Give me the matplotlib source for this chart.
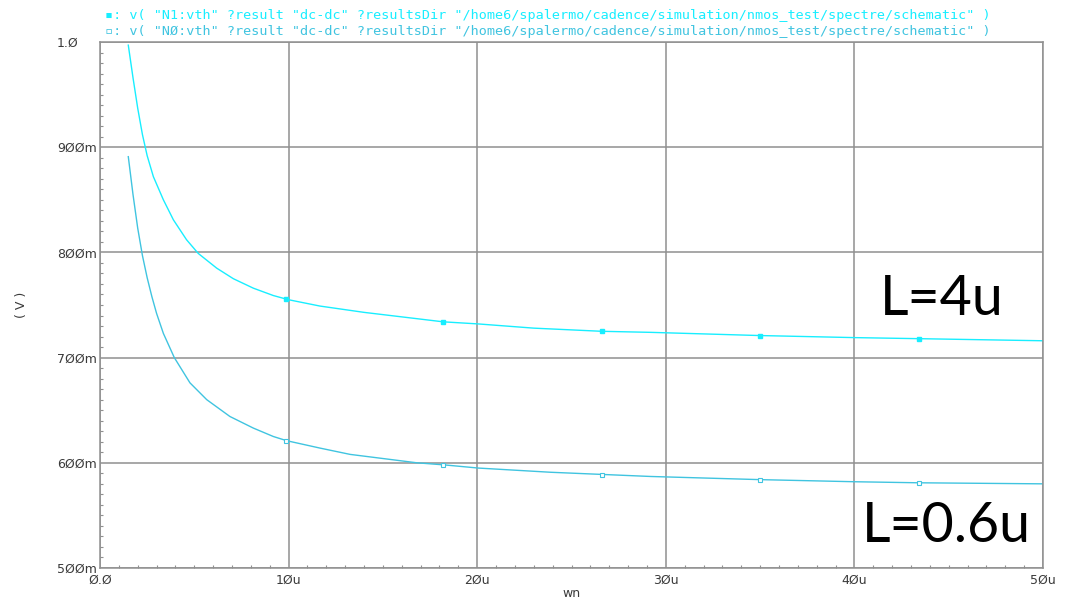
import matplotlib
matplotlib.use('Agg')
import matplotlib.pyplot as plt
from matplotlib.ticker import MultipleLocator

# wn in um, vth in V
wn_n1 = [1.5, 1.75, 2.0, 2.25, 2.5, 2.83, 3.36, 3.89, 4.59, 5.21, 6.19, 7.07, 8.13,
         9.19, 10.0, 11.66, 14.0, 18.2, 20.06, 23.0, 26.6, 29.2, 34.9, 40.0, 43.4, 50.0]
vth_n1 = [0.997, 0.966, 0.937, 0.912, 0.892, 0.872, 0.850, 0.831, 0.812, 0.799, 0.785, 0.775, 0.766,
          0.759, 0.755, 0.749, 0.743, 0.734, 0.732, 0.728, 0.725, 0.724, 0.721, 0.719, 0.718, 0.716]

wn_n0 = [1.5, 1.75, 2.0, 2.25, 2.5, 2.75, 3.0, 3.36, 3.94, 4.77, 5.66, 6.89, 8.13,
         9.19, 9.9, 11.66, 13.26, 16.8, 18.26, 20.06, 23.9, 29.2, 35.0, 40.0, 43.4, 50.0]
vth_n0 = [0.891, 0.855, 0.823, 0.797, 0.776, 0.758, 0.742, 0.723, 0.700, 0.676, 0.660, 0.644, 0.633,
          0.625, 0.621, 0.614, 0.608, 0.600, 0.598, 0.595, 0.591, 0.587, 0.584, 0.582, 0.581, 0.580]

# marker points drawn by the waveform viewer
mark_wn = [9.85, 18.2, 26.6, 35.0, 43.4]
mark_n1 = [0.756, 0.734, 0.725, 0.721, 0.718]
mark_n0 = [0.621, 0.598, 0.588, 0.584, 0.581]

x_ticks = [0, 10, 20, 30, 40, 50]
x_labels = ['Ø.Ø', '1Øu', '2Øu', '3Øu', '4Øu', '5Øu']
y_ticks = [0.5, 0.6, 0.7, 0.8, 0.9, 1.0]
y_labels = ['5ØØm', '6ØØm', '7ØØm', '8ØØm', '9ØØm', '1.Ø']

header = [
    '▪: v( "N1:vth" ?result "dc-dc" ?resultsDir "/home6/spalermo/cadence/simulation/nmos_test/spectre/schematic" )',
    '▫: v( "NØ:vth" ?result "dc-dc" ?resultsDir "/home6/spalermo/cadence/simulation/nmos_test/spectre/schematic" )',
]

c_n1 = '#18EEFF'
c_n0 = '#40C4E0'
grid_c = '#909090'
txt_c = '#3a3a3a'

fig = plt.figure(figsize=(10.67, 6.01), dpi=100)
ax = fig.add_axes([100 / 1067, 33 / 601, 943 / 1067, 526 / 601])

ax.plot(wn_n1, vth_n1, color=c_n1, lw=1.0)
ax.plot(wn_n0, vth_n0, color=c_n0, lw=1.0)
ax.plot(mark_wn, mark_n1, ls='none', marker='s', ms=3, color=c_n1)
ax.plot(mark_wn, mark_n0, ls='none', marker='s', ms=3.5, mfc='white', mec=c_n0, mew=0.8)

ax.set_xlim(0, 50)
ax.set_ylim(0.5, 1.0)

ax.set_xticks(x_ticks)
ax.set_xticklabels(x_labels)
ax.set_yticks(y_ticks)
ax.set_yticklabels(y_labels)
ax.xaxis.set_minor_locator(MultipleLocator(1))
ax.yaxis.set_minor_locator(MultipleLocator(0.01))

ax.grid(True, which='major', color=grid_c, lw=1.1)
ax.tick_params(which='major', length=0, labelsize=9, labelcolor=txt_c)
ax.tick_params(axis='x', which='major', pad=4)
ax.tick_params(axis='y', which='major', pad=31)
for lab in ax.get_yticklabels():
    lab.set_horizontalalignment('left')
ax.tick_params(which='minor', direction='in', length=2.5, width=0.8, color=grid_c)
for s in ax.spines.values():
    s.set_color(grid_c)
    s.set_linewidth(1.1)

ax.set_xlabel('wn', fontsize=9, color=txt_c, labelpad=0)
ax.set_ylabel('( V )', fontsize=9, color=txt_c)
ax.yaxis.set_label_coords(-0.076, 0.5)

# header lines like the Cadence waveform window
fig.text(105 / 1067, 1 - 15 / 601, header[0], family=['DejaVu Sans Mono', 'DejaVu Sans'],
         fontsize=9.7, color=c_n1, va='center', ha='left')
fig.text(105 / 1067, 1 - 32 / 601, header[1], family=['DejaVu Sans Mono', 'DejaVu Sans'],
         fontsize=9.7, color=c_n0, va='center', ha='left')

# curve annotations
fig.text(880 / 1067, 1 - 315 / 601, 'L=4u', family='Lato', fontsize=40, color='black',
         va='baseline', ha='left')
fig.text(862 / 1067, 1 - 542 / 601, 'L=0.6u', family='Lato', fontsize=40, color='black',
         va='baseline', ha='left')

fig.savefig('out.png', dpi=100)
